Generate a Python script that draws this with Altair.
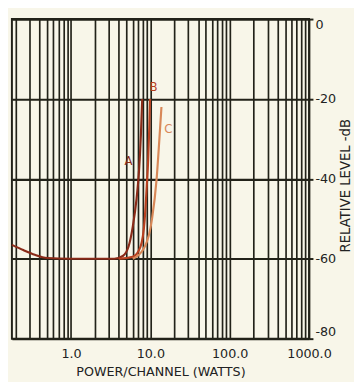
import altair as alt
import pandas as pd

# Curve A
a_power = [0.18, 0.25, 0.35, 0.5, 1.0, 2.0, 3.5, 4.5, 5.3, 6.0, 6.7, 7.2, 7.6, 7.9]
a_level = [-56.5, -57.8, -59.0, -59.8, -60.0, -60.0, -60.0, -59.3, -57.0, -52.0, -45.0, -38.0, -29.0, -20.0]
# Curve B
b_power = [4.0, 6.0, 7.5, 8.5, 9.0, 9.4, 9.7, 9.9]
b_level = [-60.0, -59.5, -57.0, -50.0, -42.0, -35.0, -27.0, -20.0]
# Curve C
c_power = [6.0, 8.5, 10.5, 12.0, 13.0, 13.8]
c_level = [-60.0, -57.0, -50.0, -40.0, -30.0, -22.0]

label_text = ["A", "B", "C"]
label_power = [5.3, 11.0, 16.8]
label_level = [-35.5, -17.0, -27.5]

x_ticks = [0.2, 0.3, 0.4, 0.5, 0.6, 0.7, 0.8, 0.9,
           1, 2, 3, 4, 5, 6, 7, 8, 9,
           10, 20, 30, 40, 50, 60, 70, 80, 90,
           100, 200, 300, 400, 500, 600, 700, 800, 900, 1000]
y_ticks = [0, -20, -40, -60, -80]

rows = []
for name, ps, ls in [("A", a_power, a_level), ("B", b_power, b_level), ("C", c_power, c_level)]:
    for p, l in zip(ps, ls):
        rows.append({"curve": name, "power": p, "level": l})
df = pd.DataFrame(rows)
lab = pd.DataFrame({"t": label_text, "power": label_power, "level": label_level})

xscale = alt.Scale(type="log", domain=[0.18, 1000], nice=False)
yscale = alt.Scale(domain=[-80, 0], nice=False)

font = "DejaVu Sans"

xaxis = alt.Axis(
    values=x_ticks,
    labelExpr="indexof([1,10,100,1000], datum.value) >= 0 ? format(datum.value, '.1f') : ''",
    grid=True, gridColor="#222219", gridWidth=1.7, gridOpacity=1,
    ticks=False, domain=False,
    labelFont=font, labelFontSize=13, labelColor="#222", labelPadding=9,
    title="POWER/CHANNEL (WATTS)", titleFont=font, titleFontSize=13,
    titleFontWeight="normal", titleColor="#222", titlePadding=6,
    labelFlush=False,
)
yaxis = alt.Axis(
    orient="right", values=y_ticks,
    labelExpr="datum.value == 0 ? '0' : '-' + abs(datum.value)",
    grid=True, gridColor="#222219", gridWidth=2.2, gridOpacity=1,
    ticks=True, tickSize=4, tickColor="#222219", tickWidth=2, domain=False,
    labelFont=font, labelFontSize=13, labelColor="#222", labelPadding=2,
    labelFlush=True,
    title="RELATIVE LEVEL -dB", titleFont=font, titleFontSize=13.5,
    titleFontWeight="normal", titleColor="#222",
    titleAngle=270, titleX=37, titleY=170, titleAlign="center", titleBaseline="middle",
)

base = alt.Chart(df).encode(
    x=alt.X("power:Q", scale=xscale, axis=xaxis),
    y=alt.Y("level:Q", scale=yscale, axis=yaxis),
)

lines = base.mark_line(interpolate="monotone", strokeWidth=2.2).encode(
    color=alt.Color("curve:N", scale=alt.Scale(domain=["A", "B", "C"],
                    range=["#8a2a18", "#b8401f", "#d88858"]), legend=None),
    detail="curve:N",
)

labels = alt.Chart(lab).mark_text(font=font, fontSize=12, align="center", baseline="middle").encode(
    x=alt.X("power:Q", scale=xscale),
    y=alt.Y("level:Q", scale=yscale),
    text="t:N",
    color=alt.Color("t:N", scale=alt.Scale(domain=["A", "B", "C"],
                    range=["#b5502d", "#d9a080", "#c8703a"]), legend=None),
)

chart = alt.layer(lines, labels).properties(
    width=304, height=327,
    autosize=alt.AutoSizeParams(type="none"),
    padding={"left": 4, "top": 7, "right": 46, "bottom": 40},
    background="#f8f6e9",
).configure_view(stroke="#222219", strokeWidth=2)

chart.save("out.html", embed_options={"renderer": "svg", "actions": False})
